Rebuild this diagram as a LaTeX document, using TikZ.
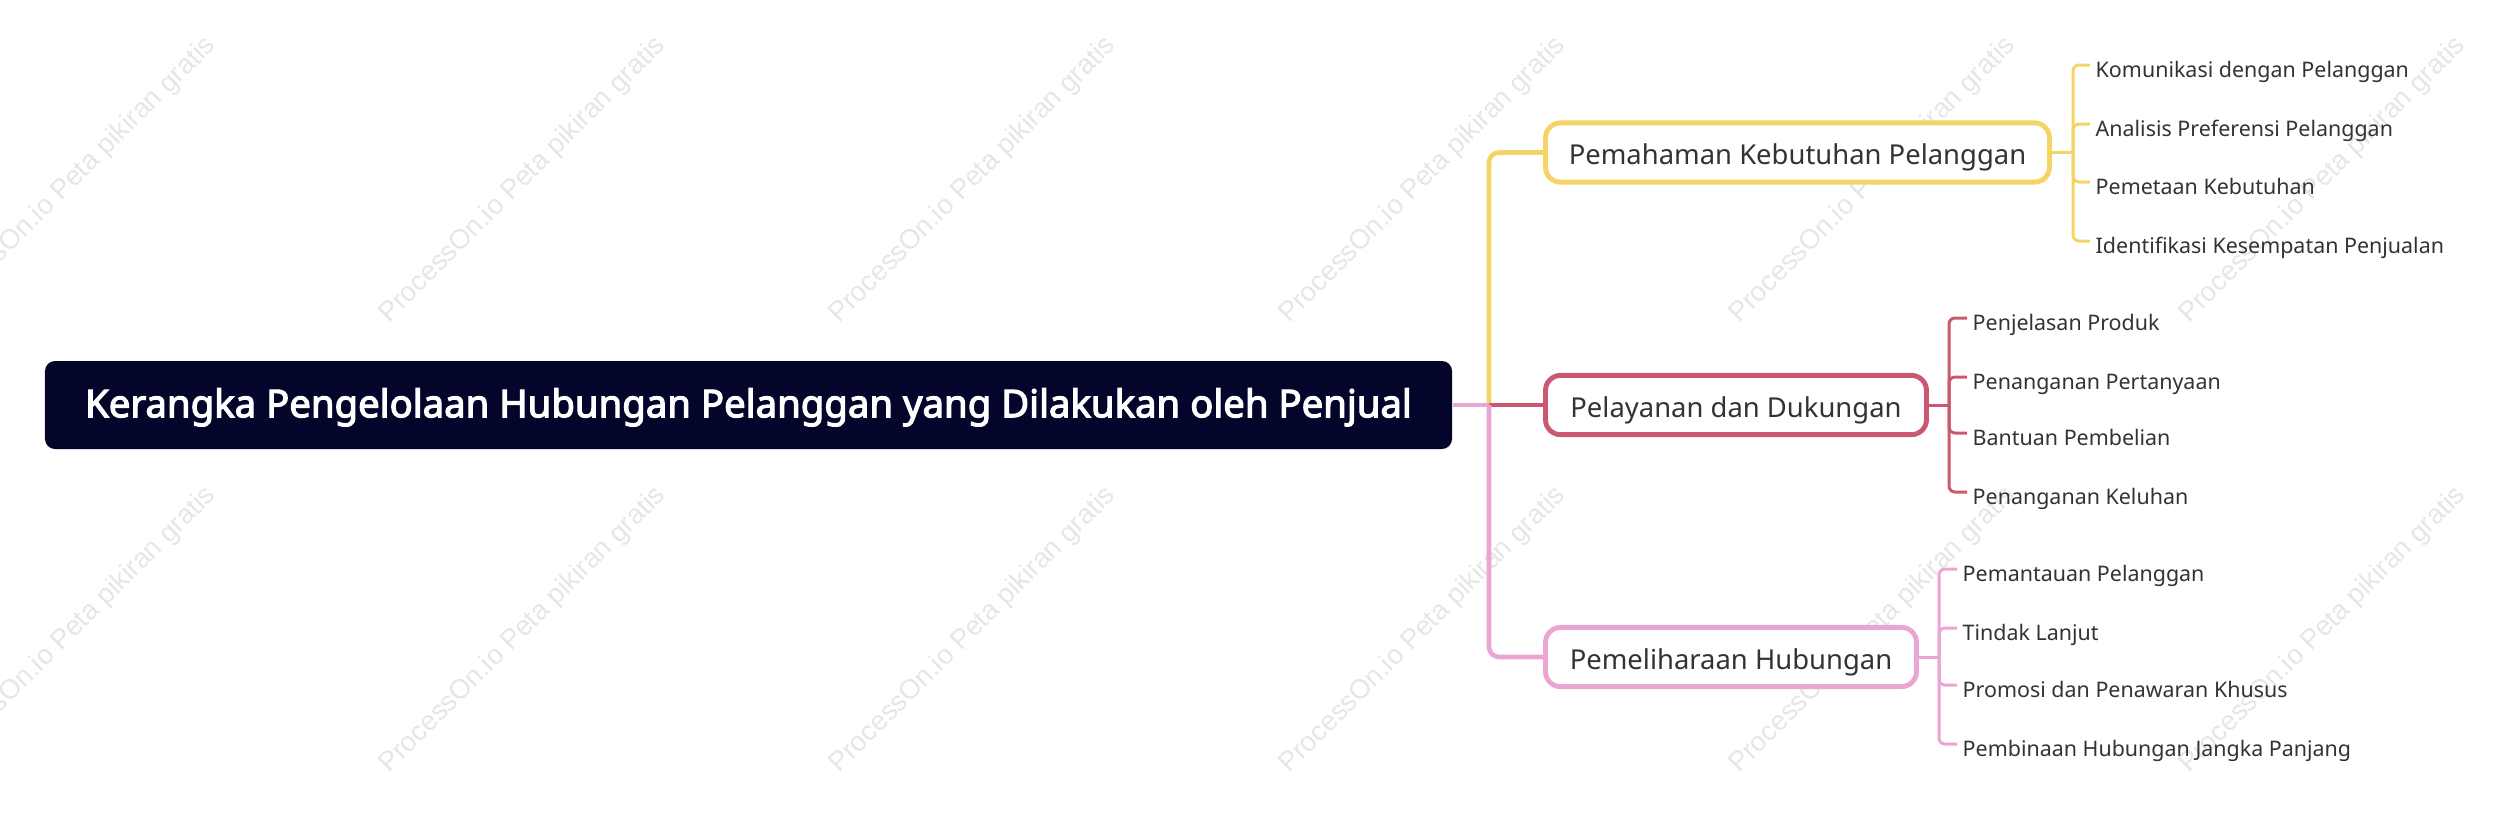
\documentclass[tikz,border=0pt]{standalone}
\usepackage{fontspec}
\setmainfont{Noto Sans}
\newfontfamily\fonteraiz{Noto Sans}[FakeBold=3]
\newfontfamily\wmfont{Liberation Sans}
\usepackage{tikz}
\usetikzlibrary{positioning}
\definecolor{navy}{HTML}{03052B}
\definecolor{amarelo}{HTML}{F5D466}
\definecolor{vermelho}{HTML}{CC5770}
\definecolor{rosa}{HTML}{EBA5D3}
\definecolor{texto}{HTML}{333333}
\definecolor{marca}{HTML}{E6E6E6}

\tikzset{
  raiz/.style={fill=navy, rounded corners=0.1cm, text=white, minimum width=14.07cm, minimum height=0.88cm, text height=1.6ex, text depth=0.3ex, font=\fonteraiz\fontsize{10.9}{12}\selectfont},
  ramo/.style={draw=#1, line width=1.4pt, rounded corners=0.15cm, fill=white, text=texto, minimum height=0.57cm, text height=1.6ex, text depth=0.3ex, font=\fontsize{7.8}{9}\selectfont},
  folha/.style={anchor=west, inner xsep=0.05cm, inner ysep=0pt, text height=1.6ex, text depth=0.3ex, text=texto, font=\fontsize{6.1}{7}\selectfont},
  liga/.style={draw=#1, line width=1.3pt, rounded corners=0.1cm},
  ligafina/.style={draw=#1, line width=0.85pt, rounded corners=0.06cm},
  marcadagua/.style={rotate=45, text=marca, font=\wmfont\fontsize{7.8}{9}\selectfont}
}

\begin{document}
\begin{tikzpicture}
    \useasboundingbox (0,0) rectangle (24.93,-8.25);

    % Marca d'agua
    \node[marcadagua] (wm1) at (0.73,-1.80) {ProcessOn.io Peta pikiran gratis};
    \node[marcadagua] (wm2) at (5.23,-1.80) {ProcessOn.io Peta pikiran gratis};
    \node[marcadagua] (wm3) at (9.73,-1.80) {ProcessOn.io Peta pikiran gratis};
    \node[marcadagua] (wm4) at (14.23,-1.80) {ProcessOn.io Peta pikiran gratis};
    \node[marcadagua] (wm5) at (18.73,-1.80) {ProcessOn.io Peta pikiran gratis};
    \node[marcadagua] (wm6) at (23.23,-1.80) {ProcessOn.io Peta pikiran gratis};
    \node[marcadagua] (wm7) at (0.73,-6.30) {ProcessOn.io Peta pikiran gratis};
    \node[marcadagua] (wm8) at (5.23,-6.30) {ProcessOn.io Peta pikiran gratis};
    \node[marcadagua] (wm9) at (9.73,-6.30) {ProcessOn.io Peta pikiran gratis};
    \node[marcadagua] (wm10) at (14.23,-6.30) {ProcessOn.io Peta pikiran gratis};
    \node[marcadagua] (wm11) at (18.73,-6.30) {ProcessOn.io Peta pikiran gratis};
    \node[marcadagua] (wm12) at (23.23,-6.30) {ProcessOn.io Peta pikiran gratis};

    % Tema central
    \node[raiz] (raiz) at (7.485,-4.05) {Kerangka Pengelolaan Hubungan Pelanggan yang Dilakukan oleh Penjual};

    % Ramos principais
    \node[ramo=amarelo, minimum width=5.04cm] (kebutuhan) at (17.975,-1.525) {Pemahaman Kebutuhan Pelanggan};
    \node[ramo=vermelho, minimum width=3.81cm] (layanan) at (17.36,-4.05) {Pelayanan dan Dukungan};
    \node[ramo=rosa, minimum width=3.71cm] (pemeliharaan) at (17.31,-6.57) {Pemeliharaan Hubungan};

    % Ligacoes do tema central
    \coordinate (tronco) at (14.89,-4.05);
    \draw[liga=amarelo] (tronco) |- (kebutuhan.west);
    \draw[liga=vermelho] (tronco) -- (layanan.west);
    \draw[liga=rosa] (tronco) |- (pemeliharaan.west);
    \draw[liga=rosa, rounded corners=0pt] (raiz.east) -- (tronco);

    % Folhas - amarelo
    \node[folha] (kom) at (20.90,-0.65) {Komunikasi dengan Pelanggan};
    \node[folha] (ana) at (20.90,-1.24) {Analisis Preferensi Pelanggan};
    \node[folha] (pet) at (20.90,-1.82) {Pemetaan Kebutuhan};
    \node[folha] (ide) at (20.90,-2.41) {Identifikasi Kesempatan Penjualan};
    \coordinate (chave1) at (20.73,-1.525);
    \draw[ligafina=amarelo] (kebutuhan.east) -- (chave1);
    \draw[ligafina=amarelo] (chave1) |- (kom.west);
    \draw[ligafina=amarelo] (chave1) |- (ana.west);
    \draw[ligafina=amarelo] (chave1) |- (pet.west);
    \draw[ligafina=amarelo] (chave1) |- (ide.west);

    % Folhas - vermelho
    \node[folha] (pro) at (19.67,-3.18) {Penjelasan Produk};
    \node[folha] (per) at (19.67,-3.77) {Penanganan Pertanyaan};
    \node[folha] (ban) at (19.67,-4.33) {Bantuan Pembelian};
    \node[folha] (kel) at (19.67,-4.92) {Penanganan Keluhan};
    \coordinate (chave2) at (19.49,-4.05);
    \draw[ligafina=vermelho] (layanan.east) -- (chave2);
    \draw[ligafina=vermelho] (chave2) |- (pro.west);
    \draw[ligafina=vermelho] (chave2) |- (per.west);
    \draw[ligafina=vermelho] (chave2) |- (ban.west);
    \draw[ligafina=vermelho] (chave2) |- (kel.west);

    % Folhas - rosa
    \node[folha] (pem) at (19.57,-5.69) {Pemantauan Pelanggan};
    \node[folha] (tin) at (19.57,-6.28) {Tindak Lanjut};
    \node[folha] (prm) at (19.57,-6.85) {Promosi dan Penawaran Khusus};
    \node[folha] (pjg) at (19.57,-7.44) {Pembinaan Hubungan Jangka Panjang};
    \coordinate (chave3) at (19.39,-6.57);
    \draw[ligafina=rosa] (pemeliharaan.east) -- (chave3);
    \draw[ligafina=rosa] (chave3) |- (pem.west);
    \draw[ligafina=rosa] (chave3) |- (tin.west);
    \draw[ligafina=rosa] (chave3) |- (prm.west);
    \draw[ligafina=rosa] (chave3) |- (pjg.west);

\end{tikzpicture}
\end{document}
